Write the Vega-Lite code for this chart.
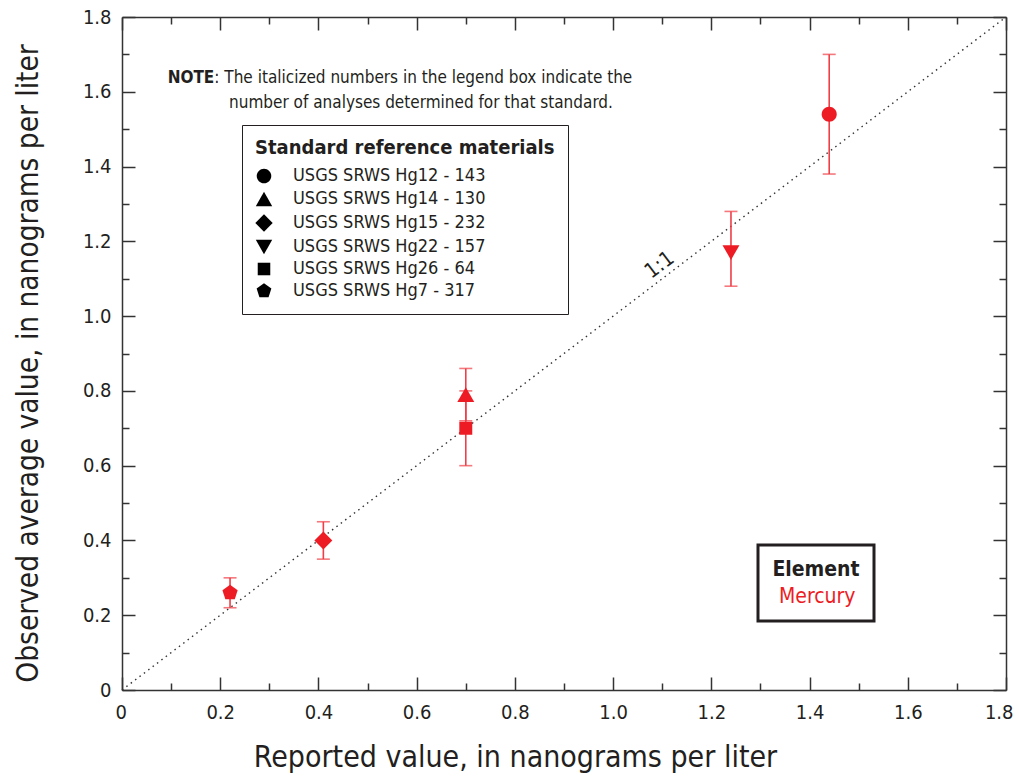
{
  "$schema": "https://vega.github.io/schema/vega-lite/v6.json",
  "width": 884,
  "height": 673,
  "autosize": "none",
  "padding": {"left": 122, "top": 17, "right": 13, "bottom": 92},
  "background": "white",
  "config": {
    "font": "DejaVu Sans Condensed, Liberation Sans Narrow, Roboto, sans-serif",
    "view": {"stroke": null},
    "axis": {
      "domainColor": "#333333",
      "domainWidth": 1.5,
      "tickColor": "#333333",
      "tickWidth": 1.5,
      "labelColor": "#231F20",
      "labelFontSize": 20,
      "titleColor": "#231F20",
      "titleFontSize": 30,
      "titleFontWeight": "normal",
      "grid": false,
      "labelOverlap": false,
      "labelFlush": false
    }
  },
  "datasets": {
    "pts": [
      {"material": "USGS SRWS Hg12 - 143", "element": "Mercury", "reported": 1.44, "observed": 1.54, "low": 1.38, "high": 1.70},
      {"material": "USGS SRWS Hg14 - 130", "element": "Mercury", "reported": 0.70, "observed": 0.79, "low": 0.72, "high": 0.86},
      {"material": "USGS SRWS Hg15 - 232", "element": "Mercury", "reported": 0.41, "observed": 0.40, "low": 0.35, "high": 0.45},
      {"material": "USGS SRWS Hg22 - 157", "element": "Mercury", "reported": 1.24, "observed": 1.17, "low": 1.08, "high": 1.28},
      {"material": "USGS SRWS Hg26 - 64", "element": "Mercury", "reported": 0.70, "observed": 0.70, "low": 0.60, "high": 0.80},
      {"material": "USGS SRWS Hg7 - 317", "element": "Mercury", "reported": 0.22, "observed": 0.26, "low": 0.22, "high": 0.30}
    ]
  },
  "resolve": {"axis": {"x": "independent", "y": "independent"}},
  "layer": [
    {
      "data": {"values": [{}]},
      "mark": {"type": "rule", "strokeDash": [1.5, 4], "color": "#333333", "strokeWidth": 1.4},
      "encoding": {
        "x": {"datum": 0, "type": "quantitative", "scale": {"domain": [0, 1.8], "nice": false},
          "axis": {"orient": "top", "values": [0,0.1,0.2,0.3,0.4,0.5,0.6,0.7,0.8,0.9,1.0,1.1,1.2,1.3,1.4,1.5,1.6,1.7,1.8], "labels": false, "title": null,
            "tickSize": {"condition": {"test": "round(datum.value*10)%2 == 0", "value": -13}, "value": -7}}},
        "y": {"datum": 0, "type": "quantitative", "scale": {"domain": [0, 1.8], "nice": false},
          "axis": {"orient": "right", "values": [0,0.1,0.2,0.3,0.4,0.5,0.6,0.7,0.8,0.9,1.0,1.1,1.2,1.3,1.4,1.5,1.6,1.7,1.8], "labels": false, "title": null,
            "tickSize": {"condition": {"test": "round(datum.value*10)%2 == 0", "value": -13}, "value": -7}}},
        "x2": {"datum": 1.8},
        "y2": {"datum": 1.8}
      }
    },
    {
      "data": {"name": "pts"},
      "mark": {"type": "rule", "color": "#EF3E46", "strokeWidth": 1.6},
      "encoding": {
        "x": {"field": "reported", "type": "quantitative", "axis": null},
        "y": {"field": "low", "type": "quantitative", "axis": null},
        "y2": {"field": "high"}
      }
    },
    {
      "data": {"name": "pts"},
      "mark": {"type": "tick", "orient": "horizontal", "size": 13, "thickness": 1.6, "color": "#EF3E46"},
      "encoding": {
        "x": {"field": "reported", "type": "quantitative", "axis": null},
        "y": {"field": "low", "type": "quantitative", "axis": null}
      }
    },
    {
      "data": {"name": "pts"},
      "mark": {"type": "tick", "orient": "horizontal", "size": 13, "thickness": 1.6, "color": "#EF3E46"},
      "encoding": {
        "x": {"field": "reported", "type": "quantitative", "axis": null},
        "y": {"field": "high", "type": "quantitative", "axis": null}
      }
    },
    {
      "data": {"name": "pts"},
      "mark": {"type": "point", "filled": true, "opacity": 1, "size": 256},
      "encoding": {
        "x": {"field": "reported", "type": "quantitative",
          "axis": {"orient": "bottom", "values": [0,0.1,0.2,0.3,0.4,0.5,0.6,0.7,0.8,0.9,1.0,1.1,1.2,1.3,1.4,1.5,1.6,1.7,1.8],
            "tickSize": {"condition": {"test": "round(datum.value*10)%2 == 0", "value": -13}, "value": -7},
            "labelExpr": "round(datum.value*10)%2 == 0 ? (datum.value == 0 ? '0' : format(datum.value, '.1f')) : ''",
            "labelPadding": 25, "labelFlush": true, "labelFlushOffset": 7,
            "title": "Reported value, in nanograms per liter",
            "titleX": 393, "titleY": 67, "titleBaseline": "middle", "titleAlign": "center"}},
        "y": {"field": "observed", "type": "quantitative",
          "axis": {"orient": "left", "values": [0,0.1,0.2,0.3,0.4,0.5,0.6,0.7,0.8,0.9,1.0,1.1,1.2,1.3,1.4,1.5,1.6,1.7,1.8],
            "tickSize": {"condition": {"test": "round(datum.value*10)%2 == 0", "value": -13}, "value": -7},
            "labelExpr": "round(datum.value*10)%2 == 0 ? (datum.value == 0 ? '0' : format(datum.value, '.1f')) : ''",
            "labelPadding": 24,
            "title": "Observed average value, in nanograms per liter",
            "titleFontSize": 29.5,
            "titleX": -94, "titleY": 346, "titleBaseline": "middle", "titleAlign": "center"}},
        "shape": {"field": "material", "type": "nominal",
          "scale": {"domain": ["USGS SRWS Hg12 - 143", "USGS SRWS Hg14 - 130", "USGS SRWS Hg15 - 232", "USGS SRWS Hg22 - 157", "USGS SRWS Hg26 - 64", "USGS SRWS Hg7 - 317"],
            "range": [
              "M0.94,0A0.94,0.94 0 1,1 -0.94,0A0.94,0.94 0 1,1 0.94,0Z",
              "M0,-0.92L1.06,0.92L-1.06,0.92Z",
              "M0,-1.12L1.12,0L0,1.12L-1.12,0Z",
              "M0,0.92L1.06,-0.92L-1.06,-0.92Z",
              "M-0.81,-0.81L0.81,-0.81L0.81,0.81L-0.81,0.81Z",
              "M0,-1L0.951,-0.309L0.588,0.809L-0.588,0.809L-0.951,-0.309Z"]},
          "legend": {"title": "Standard reference materials", "orient": "none", "legendX": 120, "legendY": 108,
            "strokeColor": "#231F20", "fillColor": "white", "padding": 13,
            "titleFontSize": 20, "titleFontWeight": "bold", "titleColor": "#231F20", "titlePadding": 9, "titleLimit": 0,
            "labelFontSize": 18, "labelColor": "#231F20", "labelOffset": 20, "labelLimit": 0, "symbolSize": 240, "rowPadding": 1,
            "encode": {"symbols": {"update": {"fill": {"value": "#231F20"}, "stroke": {"value": "#231F20"}, "opacity": {"value": 1}}}, "legend": {"update": {"strokeWidth": {"value": 3}}}}}},
        "color": {"field": "element", "type": "nominal",
          "scale": {"domain": ["Mercury"], "range": ["#ED1C24"]},
          "legend": {"title": "Element", "orient": "none", "legendX": 636, "legendY": 528,
            "strokeColor": "#231F20", "fillColor": "white", "padding": 14,
            "titleFontSize": 21, "titleFontWeight": "bold", "titleColor": "#231F20", "titleAnchor": "middle", "titlePadding": 6,
            "labelFontSize": 21, "labelColor": "#ED1C24", "labelOffset": -18, "symbolSize": 1, "symbolOpacity": 0, "symbolStrokeWidth": 0,
            "encode": {"legend": {"update": {"strokeWidth": {"value": 3}}}}}}
      }
    },
    {
      "data": {"values": [{}]},
      "mark": {"type": "text", "text": "NOTE", "fontWeight": "bold", "fontSize": 17, "align": "right", "baseline": "middle", "color": "#231F20"},
      "encoding": {"x": {"datum": 0.188, "type": "quantitative", "axis": null}, "y": {"datum": 1.636, "type": "quantitative", "axis": null}}
    },
    {
      "data": {"values": [{}]},
      "mark": {"type": "text", "text": ": The italicized numbers in the legend box indicate the", "fontSize": 17, "align": "left", "baseline": "middle", "color": "#231F20"},
      "encoding": {"x": {"datum": 0.188, "type": "quantitative", "axis": null}, "y": {"datum": 1.636, "type": "quantitative", "axis": null}}
    },
    {
      "data": {"values": [{}]},
      "mark": {"type": "text", "text": "number of analyses determined for that standard.", "fontSize": 17, "align": "left", "baseline": "middle", "color": "#231F20"},
      "encoding": {"x": {"datum": 0.218, "type": "quantitative", "axis": null}, "y": {"datum": 1.569, "type": "quantitative", "axis": null}}
    },
    {
      "data": {"values": [{}]},
      "mark": {"type": "text", "text": "1:1", "fontSize": 21, "angle": -37, "align": "center", "baseline": "middle", "color": "#231F20"},
      "encoding": {"x": {"datum": 1.095, "type": "quantitative", "axis": null}, "y": {"datum": 1.136, "type": "quantitative", "axis": null}}
    }
  ]
}
